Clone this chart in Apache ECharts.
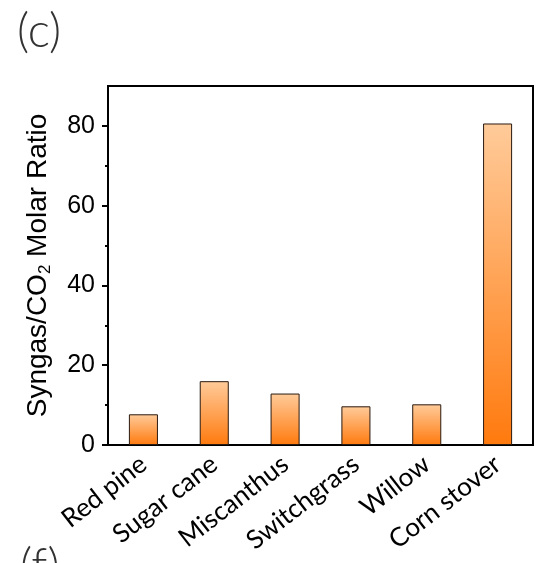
<!DOCTYPE html>
<html><head><meta charset="utf-8">
<script src="https://cdn.jsdelivr.net/npm/echarts@6/dist/echarts.min.js"></script>
<style>html,body{margin:0;padding:0;background:#fff}#c{width:538px;height:563px}</style>
</head><body><div id="c"></div>
<script>
const categories = ['Red pine', 'Sugar cane', 'Miscanthus', 'Switchgrass', 'Willow', 'Corn stover'];
const ratioValues = [7.7, 16.0, 12.9, 9.7, 10.2, 80.6];
const majorTicks = [0, 20, 40, 60, 80];
const minorTicks = [10, 30, 50, 70];

const chart = echarts.init(document.getElementById('c'), null, {renderer: 'canvas'});
const yBase = {
  type: 'value', min: 0, max: 90, position: 'left',
  splitLine: {show: false}
};
chart.setOption({
  animation: false,
  graphic: [
    {type: 'text', left: 17, top: 8, style: {text: '(c)', font: '300 47px Lato', fill: '#333'}},
    {type: 'text', left: 20, top: 543, style: {text: '(f)', font: '300 47px Lato', fill: '#333'}}
  ],
  grid: {left: 108, right: 5, top: 86, bottom: 118, show: true, borderColor: '#000', borderWidth: 2, backgroundColor: 'transparent'},
  xAxis: {
    type: 'category', data: categories,
    axisLine: {lineStyle: {color: '#000', width: 2}},
    axisTick: {alignWithLabel: true, length: 6, lineStyle: {color: '#000', width: 2}},
    axisLabel: {rotate: 38, margin: 16, color: '#000', fontFamily: 'Lato', fontSize: 26}
  },
  yAxis: [
    Object.assign({}, yBase, {
      name: 'Syngas/CO{sub|2} Molar Ratio',
      nameLocation: 'middle', nameRotate: 90, nameGap: 54,
      nameTextStyle: {color: '#000', fontFamily: 'Liberation Sans', fontSize: 28,
        rich: {sub: {fontSize: 17, verticalAlign: 'bottom', padding: [15, 0, 0, 0], fontFamily: 'Liberation Sans', color: '#000'}}},
      axisLine: {show: true, lineStyle: {color: '#000', width: 2}},
      axisTick: {show: true, length: 6, customValues: majorTicks, lineStyle: {color: '#000', width: 2}},
      axisLabel: {customValues: majorTicks, margin: 13, color: '#000', fontFamily: 'Liberation Sans', fontSize: 25}
    }),
    Object.assign({}, yBase, {
      axisLine: {show: false},
      axisTick: {show: true, length: 3, customValues: minorTicks, lineStyle: {color: '#000', width: 2}},
      axisLabel: {show: false}
    })
  ],
  series: [{
    type: 'bar', data: ratioValues, barWidth: '41%',
    itemStyle: {
      borderColor: '#2a1a10', borderWidth: 1,
      color: new echarts.graphic.LinearGradient(0, 0, 0, 1, [
        {offset: 0, color: '#FFCB9A'},
        {offset: 1, color: '#FF7A0E'}
      ])
    }
  }]
});
</script></body></html>
